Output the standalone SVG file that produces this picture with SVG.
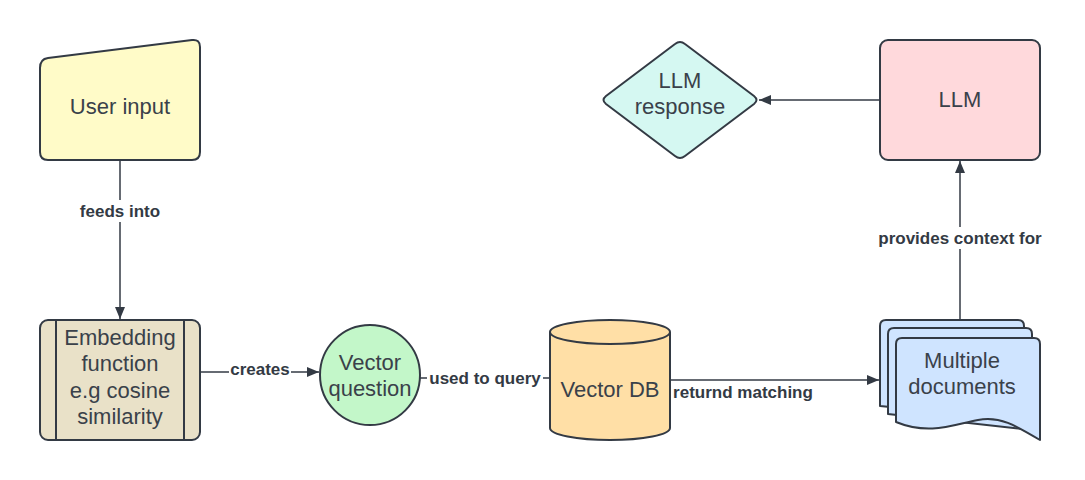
<svg xmlns="http://www.w3.org/2000/svg" width="1085" height="480" viewBox="0 0 1085 480">
<style>
.s{stroke:#333a44;stroke-width:2;stroke-linejoin:round}
.t{font-family:"Liberation Sans",Arial,sans-serif;font-size:22px;fill:#3a414a;text-anchor:middle;dominant-baseline:central}
.l{font-family:"Liberation Sans",Arial,sans-serif;font-size:17px;font-weight:bold;fill:#333a44;text-anchor:middle;dominant-baseline:central}
.c{stroke:#333a44;stroke-width:1.5;fill:none}
.bg{fill:#ffffff}
</style>
<defs>
<marker id="ah" viewBox="0 0 12 10" refX="12" refY="5" markerWidth="12" markerHeight="10" markerUnits="userSpaceOnUse" orient="auto">
<path d="M0,0 L12,5 L0,10 Z" fill="#333a44"/>
</marker>
</defs>
<rect width="1085" height="480" fill="#ffffff"/>
<g id="connectors">
<line class="c" x1="120" y1="160" x2="120" y2="319" marker-end="url(#ah)"/>
<rect class="bg" x="76" y="200" width="88" height="22"/>
<text class="l" x="120" y="211">feeds into</text>
<line class="c" x1="200" y1="372" x2="319" y2="372" marker-end="url(#ah)"/>
<rect class="bg" x="229" y="360" width="62" height="20"/>
<text class="l" x="260" y="369">creates</text>
<line class="c" x1="420" y1="378" x2="549" y2="378"/>
<rect class="bg" x="427" y="367" width="116" height="22"/>
<text class="l" x="485" y="378">used to query</text>
<line class="c" x1="670" y1="380" x2="879" y2="380" marker-end="url(#ah)"/>
<text class="l" x="743" y="392">returnd matching</text>
<line class="c" x1="960" y1="320" x2="960" y2="161" marker-end="url(#ah)"/>
<rect class="bg" x="872" y="227" width="176" height="22"/>
<text class="l" x="960" y="238">provides context for</text>
<line class="c" x1="880" y1="100" x2="759" y2="100" marker-end="url(#ah)"/>
</g>
<g id="user-input">
<path class="s" fill="#fffbc8" d="M48,58 L192,40 Q200,39 200,47 L200,152 Q200,160 192,160 L48,160 Q40,160 40,152 L40,68 Q40,59 48,58 Z"/>
<text class="t" x="120" y="106">User input</text>
</g>
<g id="embedding">
<rect class="s" fill="#e9e1c8" x="40" y="320" width="160" height="120" rx="8"/>
<line class="s" x1="56" y1="320" x2="56" y2="440"/>
<line class="s" x1="184" y1="320" x2="184" y2="440"/>
<text class="t" x="120" y="337">Embedding</text>
<text class="t" x="120" y="363">function</text>
<text class="t" x="120" y="390">e.g cosine</text>
<text class="t" x="120" y="416">similarity</text>
</g>
<g id="vector-question">
<circle class="s" fill="#c3f7c9" cx="370" cy="375" r="50"/>
<text class="t" x="370" y="362">Vector</text>
<text class="t" x="370" y="388">question</text>
</g>
<g id="vector-db">
<path class="s" fill="#ffdfa6" d="M550,332 A60,12 0 0 1 670,332 L670,428 A60,12 0 0 1 550,428 Z"/>
<path class="s" fill="none" d="M550,332 A60,12 0 0 0 670,332"/>
<text class="t" x="610" y="389">Vector DB</text>
</g>
<g id="documents">
<path class="s" fill="#cfe4ff" d="M886,320 L1018,320 Q1024,320 1024,326 L1024,420 L880,406 L880,326 Q880,320 886,320 Z"/>
<path class="s" fill="#cfe4ff" d="M894,328 L1026,328 Q1032,328 1032,334 L1032,430 L888,414 L888,334 Q888,328 894,328 Z"/>
<path class="s" fill="#cfe4ff" d="M902,338 L1034,338 Q1040,338 1040,344 L1040,440 C1015,425 1000,416 978,420 C955,424 930,436 896,422 L896,344 Q896,338 902,338 Z"/>
<text class="t" x="962" y="360">Multiple</text>
<text class="t" x="962" y="386">documents</text>
</g>
<g id="llm">
<rect class="s" fill="#ffd9dc" x="880" y="40" width="160" height="120" rx="8"/>
<text class="t" x="960" y="99">LLM</text>
</g>
<g id="llm-response">
<path class="s" fill="#d5f8f2" d="M675,44 Q680,40 685,44 L754,96 Q759,100 754,104 L685,156 Q680,160 675,156 L606,104 Q601,100 606,96 Z"/>
<text class="t" x="680" y="80">LLM</text>
<text class="t" x="680" y="106">response</text>
</g>
</svg>
